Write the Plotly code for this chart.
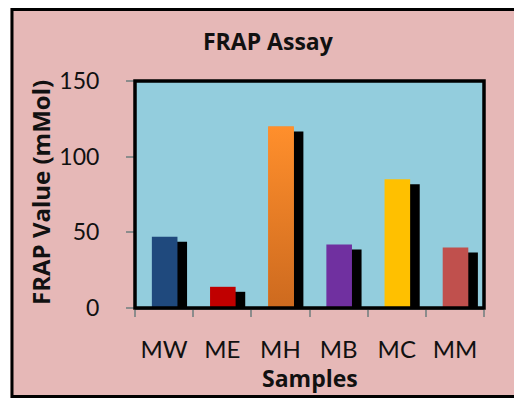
import plotly.graph_objects as go

# Data
samples = ["MW", "ME", "MH", "MB", "MC", "MM"]
frap_mmol = [47, 14, 120, 42, 85, 40]
bar_colors = ["#1f497d", "#c00000", "#f7872a", "#7030a0", "#ffc000", "#c0504d"]
y_tick_vals = [0, 50, 100, 150]

# Canvas geometry (pixels)
W, H = 514, 398
ML, MR, MT, MB = 135, 30, 81, 90
PW, PH = W - ML - MR, H - MT - MB

FONT = "Lato"
BOLD_FONT = "Open Sans"
INK = "#111111"
PINK = "#e6b8b7"
PLOT_BG = "#93cddd"

BAR_W = 0.44
BAR_OFF = -0.21
SHADOW_DX = 0.165   # shadow shift to the right, in category units
SHADOW_DY = 3.3     # shadow drop, in data units


def px_x(px):
    return (px - ML) / PW


def px_y(py):
    return (H - MB - py) / PH


idx = list(range(len(samples)))

fig = go.Figure()

# Drop shadows behind each bar
fig.add_bar(
    x=idx, y=frap_mmol, base=-SHADOW_DY,
    width=BAR_W, offset=BAR_OFF + SHADOW_DX,
    marker=dict(color="black", line=dict(width=0)),
    hoverinfo="skip", showlegend=False,
)

# Coloured bars
fig.add_bar(
    x=idx, y=frap_mmol,
    width=BAR_W, offset=BAR_OFF,
    marker=dict(color=bar_colors, line=dict(width=0)),
    showlegend=False,
)

# Gradient fill on the MH bar
k = samples.index("MH")
v = frap_mmol[k]
x0, x1 = k + BAR_OFF, k + BAR_OFF + BAR_W
fig.add_scatter(
    x=[x0, x1, x1, x0, x0], y=[0, 0, v, v, 0],
    mode="lines", line=dict(width=0), fill="toself",
    fillgradient=dict(type="vertical",
                      colorscale=[[0, "#cd6a1f"], [1, "#ff8f2c"]]),
    hoverinfo="skip", showlegend=False,
)

fig.update_layout(
    width=W, height=H,
    margin=dict(l=ML, r=MR, t=MT, b=MB, pad=0),
    paper_bgcolor=PINK, plot_bgcolor=PLOT_BG,
    barmode="overlay", showlegend=False,
    font=dict(family=FONT, color=INK),
    xaxis=dict(
        range=[-0.5, 5.5], tickvals=idx, ticktext=samples,
        ticks="", showgrid=False, zeroline=False,
        showline=True, linecolor="#7f7f7f", linewidth=2,
        tickfont=dict(family=FONT, size=24, color=INK),
        ticklabelstandoff=19,
        minor=dict(tick0=-0.5, dtick=1, ticks="outside", ticklen=7,
                   tickcolor="#8c8c8c", tickwidth=1.5, showgrid=False),
    ),
    yaxis=dict(
        range=[0, 150], tickvals=y_tick_vals,
        ticks="outside", ticklen=8, tickcolor="#8c8c8c", tickwidth=1.5,
        showgrid=False, zeroline=False, showline=False,
        tickfont=dict(family=FONT, size=23, color=INK),
        ticklabelstandoff=22,
    ),
    shapes=[
        # plot frame
        dict(type="rect", xref="x domain", yref="y domain",
             x0=0, x1=1, y0=0, y1=1, line=dict(color="black", width=3.5),
             layer="above"),
        # white strips outside the chart frame
        dict(type="rect", xref="paper", yref="paper",
             x0=px_x(-5), x1=px_x(10.5), y0=px_y(H + 5), y1=px_y(-5),
             fillcolor="white", line=dict(width=0), layer="above"),
        dict(type="rect", xref="paper", yref="paper",
             x0=px_x(-5), x1=px_x(W + 5), y0=px_y(8), y1=px_y(-5),
             fillcolor="white", line=dict(width=0), layer="above"),
        # chart frame
        dict(type="rect", xref="paper", yref="paper",
             x0=px_x(12), x1=px_x(W + 10), y0=px_y(396.5), y1=px_y(9.5),
             line=dict(color="black", width=3), layer="above"),
    ],
    annotations=[
        dict(text="<b>FRAP Assay</b>", xref="paper", yref="paper",
             x=px_x(268), y=px_y(41), xanchor="center", yanchor="middle",
             showarrow=False, font=dict(family=BOLD_FONT, size=23, color=INK)),
        dict(text="<b>FRAP Value (mMol)</b>", xref="paper", yref="paper",
             x=px_x(40), y=px_y(193), xanchor="center", yanchor="middle",
             textangle=-90, showarrow=False,
             font=dict(family=BOLD_FONT, size=24, color=INK)),
        dict(text="<b>Samples</b>", xref="paper", yref="paper",
             x=px_x(310), y=px_y(378), xanchor="center", yanchor="middle",
             showarrow=False, font=dict(family=BOLD_FONT, size=23, color=INK)),
    ],
)

fig.write_html("out.html")
